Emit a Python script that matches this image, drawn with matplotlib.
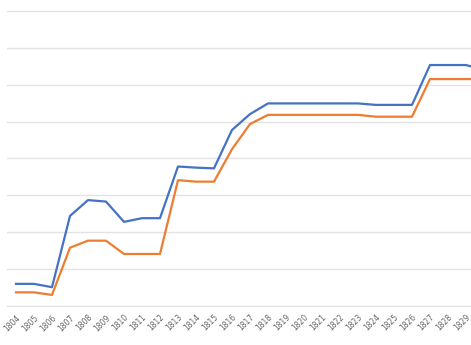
import matplotlib.pyplot as plt

years = [str(y) for y in range(1804, 1831)]

blue_vals = [0.60, 0.60, 0.51, 2.44, 2.87, 2.83, 2.28, 2.38, 2.38, 3.78, 3.75, 3.73,
             4.77, 5.20, 5.49, 5.49, 5.49, 5.49, 5.49, 5.49, 5.45, 5.45, 5.45,
             6.53, 6.53, 6.53, 6.40]
orange_vals = [0.37, 0.37, 0.30, 1.58, 1.77, 1.77, 1.41, 1.41, 1.41, 3.41, 3.37, 3.37,
               4.25, 4.93, 5.18, 5.18, 5.18, 5.18, 5.18, 5.18, 5.13, 5.13, 5.13,
               6.15, 6.15, 6.15, 6.15]

W, H = 471, 345
fig = plt.figure(figsize=(W / 100, H / 100), dpi=100)

# one category = 18 px, one gridline step = 36.9 px
cat_px = 18
step_px = 36.9
ymax = 8.3
ax = fig.add_axes([7 / W, 39 / H, len(years) * cat_px / W, ymax * step_px / H])

x = list(range(len(years)))
ax.plot(x, blue_vals, color='#4472C4', lw=1.6, solid_joinstyle='round')
ax.plot(x, orange_vals, color='#ED7D31', lw=1.6, solid_joinstyle='round')

ax.set_xlim(-0.5, len(years) - 0.5)
ax.set_ylim(0, ymax)
ax.set_yticks(range(0, 9))
ax.set_yticklabels([])
ax.tick_params(axis='y', length=0)
ax.grid(axis='y', color='#e3e3e3', lw=1)
ax.set_axisbelow(True)

ax.set_xticks(x)
ax.set_xticklabels(years, rotation=45, ha='right', va='top',
                   rotation_mode='anchor', fontsize=5.5, color='#666666')
ax.tick_params(axis='x', length=0, pad=5)

for s in ['top', 'right', 'left']:
    ax.spines[s].set_visible(False)
ax.spines['bottom'].set_color('#e3e3e3')

fig.savefig('out.png', dpi=100)
